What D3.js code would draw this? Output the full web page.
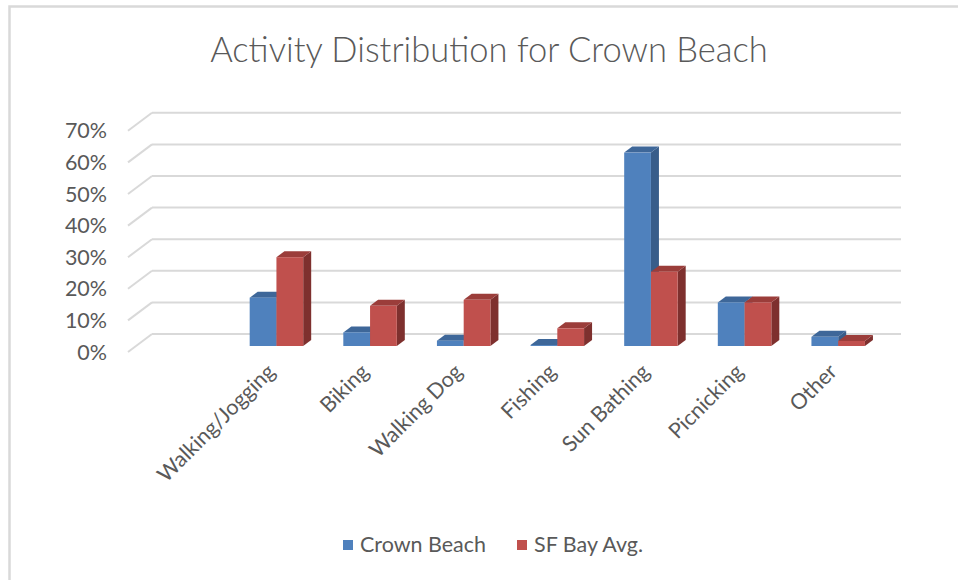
<!DOCTYPE html>
<html><head><meta charset="utf-8">
<script src="https://cdn.jsdelivr.net/npm/d3@7"></script>
<style>body{margin:0;background:#fff}svg{display:block}text{font-family:Lato,"Open Sans",sans-serif;fill:#595959}</style>
</head><body><svg id="c" width="958" height="580"></svg>
<script>
const categories = ["Walking/Jogging","Biking","Walking Dog","Fishing","Sun Bathing","Picnicking","Other"];
const crownBeach = [15.3, 4.3, 1.7, 0.3, 61.2, 13.8, 2.9];
const sfBayAvg = [28.1, 12.7, 14.6, 5.6, 23.5, 13.8, 1.6];
const seriesNames = ["Crown Beach","SF Bay Avg."];
const yTicks = [0,10,20,30,40,50,60,70];
const title = "Activity Distribution for Crown Beach";

const svg = d3.select("#c");
const W=958,H=580;
const DX=24, DY=-18;           // floor depth projection
const floorL=128, floorR=877, y0=352, y70=130.8;
const colors = [
  {front:"#4f81bd", top:"#3e6799", side:"#385d8a"},
  {front:"#c0504d", top:"#9b3d3a", side:"#7e302e"}
];

svg.append("path").attr("d",`M9.5,${H} V6.5 H${W}`).attr("fill","none").attr("stroke","#d9d9d9").attr("stroke-width",2.5);

const y = d3.scaleLinear().domain([0,70]).range([y0,y70]);
const slot=(floorR-floorL)/8;
const x = d3.scaleBand().domain(categories).range([floorL+slot, floorR]);
const xs = d3.scaleBand().domain(seriesNames).range([0,x.bandwidth()]).paddingInner(0).paddingOuter(0.75);

// gridlines
const g = svg.append("g");
yTicks.forEach(t=>{
  g.append("line").attr("x1",floorL+DX).attr("x2",floorR+DX).attr("y1",y(t)+DY).attr("y2",y(t)+DY)
   .attr("stroke","#d9d9d9").attr("stroke-width",2);
  g.append("line").attr("x1",floorL).attr("x2",floorL+DX).attr("y1",y(t)).attr("y2",y(t)+DY)
   .attr("stroke","#d9d9d9").attr("stroke-width",2);
});

// measure font scale to approximate Calibri metrics
const probe = svg.append("text").attr("font-size",20).text("Crown Beach");
const fs = 20*126/probe.node().getComputedTextLength();
probe.remove();

// tick labels
svg.append("g").selectAll("text").data(yTicks).join("text")
  .attr("x",107).attr("y",t=>y(t)).attr("dy","0.35em").attr("text-anchor","end")
  .attr("font-size",fs).text(t=>t+"%");

// bars
const series=[crownBeach,sfBayAvg];
const bz=1/3;
const bars=svg.append("g");
categories.forEach((c,i)=>{
  series.forEach((vals,s)=>{
    const v=vals[i], col=colors[s];
    const xa=x(c)+xs(seriesNames[s])+DX*bz, xb=xa+xs.bandwidth();
    const yt=y(v)+DY*bz, yb=y(0)+DY*bz;
    const ddx=DX/3, ddy=DY/3;
    bars.append("path").attr("d",`M${xb},${yt}L${xb+ddx},${yt+ddy}L${xb+ddx},${yb+ddy}L${xb},${yb}Z`).attr("fill",col.side);
    bars.append("path").attr("d",`M${xa},${yt}L${xb},${yt}L${xb+ddx},${yt+ddy}L${xa+ddx},${yt+ddy}Z`).attr("fill",col.top);
    bars.append("rect").attr("x",xa).attr("y",yt).attr("width",xb-xa).attr("height",Math.max(0,yb-yt)).attr("fill",col.front);
  });
});

// category labels
svg.append("g").selectAll("text").data(categories).join("text")
  .attr("transform",c=>`translate(${x(c)+x.bandwidth()/2+8},${y0+21}) rotate(-45)`)
  .attr("text-anchor","end").attr("font-size",fs).text(c=>c);

// title
const tt=svg.append("text").attr("x",489).attr("y",62).attr("text-anchor","middle").attr("font-size",30).attr("font-weight",300).text(title);
const tl=tt.node().getComputedTextLength();
tt.attr("font-size",30*558/tl);

// legend
const leg=[{x:343,name:seriesNames[0],c:colors[0].front},{x:517,name:seriesNames[1],c:colors[1].front}];
leg.forEach(l=>{
  svg.append("rect").attr("x",l.x).attr("y",540).attr("width",10).attr("height",10).attr("fill",l.c);
  svg.append("text").attr("x",l.x+17).attr("y",552).attr("font-size",fs).text(l.name);
});
</script></body></html>
